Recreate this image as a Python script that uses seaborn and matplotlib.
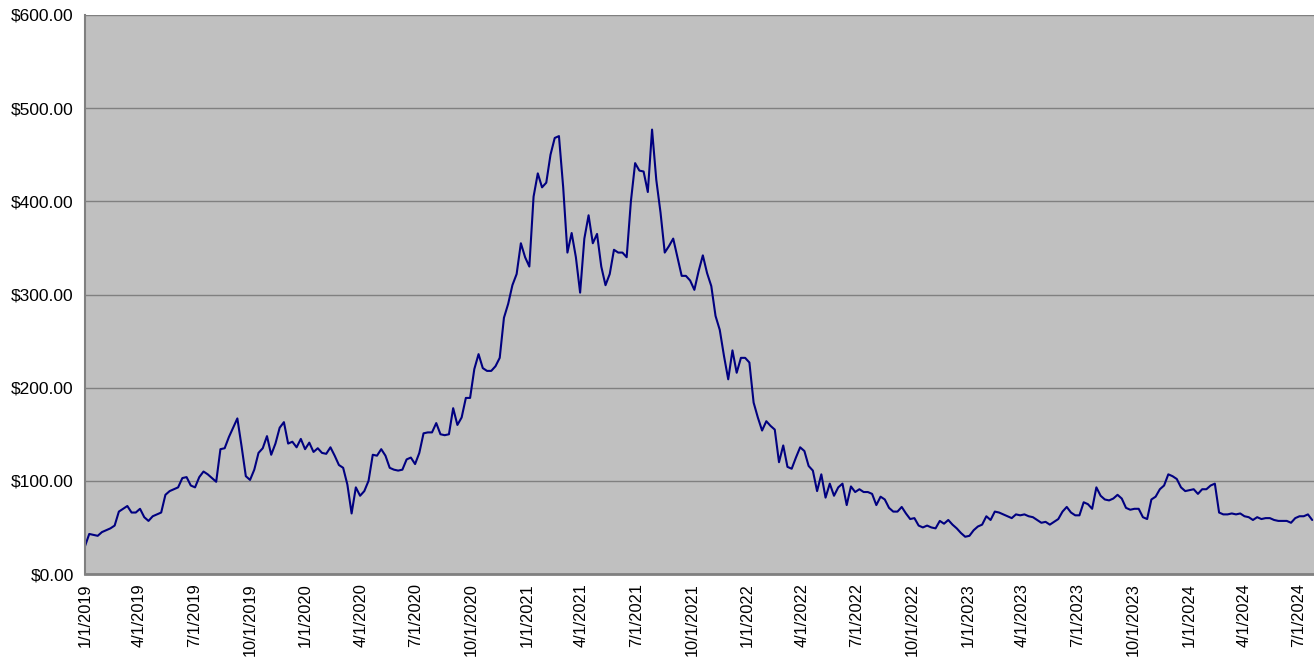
import numpy as np
import pandas as pd
import matplotlib
matplotlib.use("Agg")
import matplotlib.pyplot as plt
import matplotlib.dates as mdates
import seaborn as sns

# weekly closing price (first week = 1/1/2019)
start_date = "2019-01-01"
prices = [
    30, 43, 42, 41, 45, 47, 49, 52, 67, 70,
    73, 66, 66, 70, 61, 57, 62, 64, 66, 85,
    89, 91, 93, 103, 104, 95, 93, 104, 110, 107,
    103, 99, 134, 135, 147, 157, 167, 137, 105, 101,
    112, 130, 135, 148, 128, 140, 157, 163, 140, 142,
    136, 145, 134, 141, 131, 135, 130, 129, 136, 127,
    117, 114, 96, 65, 93, 84, 89, 100, 128, 127,
    134, 127, 114, 112, 111, 112, 123, 125, 118, 130,
    151, 152, 152, 162, 150, 149, 150, 178, 160, 168,
    189, 189, 220, 236, 221, 218, 218, 223, 232, 275,
    290, 310, 322, 355, 340, 330, 405, 430, 415, 420,
    450, 468, 470, 415, 345, 366, 340, 302, 360, 385,
    355, 365, 330, 310, 322, 348, 345, 345, 340, 400,
    441, 433, 432, 410, 477, 423, 388, 345, 352, 360,
    340, 320, 320, 315, 305, 325, 342, 323, 309, 277,
    262, 234, 209, 240, 216, 232, 232, 227, 184, 168,
    154, 164, 159, 155, 120, 138, 115, 113, 125, 136,
    132, 116, 111, 89, 107, 82, 97, 84, 93, 97,
    74, 94, 88, 91, 88, 88, 86, 74, 83, 80,
    71, 67, 67, 72, 65, 59, 60, 52, 50, 52,
    50, 49, 57, 54, 58, 53, 49, 44, 40, 41,
    47, 51, 53, 62, 58, 67, 66, 64, 62, 60,
    64, 63, 64, 62, 61, 58, 55, 56, 53, 56,
    59, 67, 72, 66, 63, 63, 77, 75, 70, 93,
    84, 80, 79, 81, 85, 81, 71, 69, 70, 70,
    61, 59, 80, 83, 91, 95, 107, 105, 102, 93,
    89, 90, 91, 86, 91, 91, 95, 97, 66, 64,
    64, 65, 64, 65, 62, 61, 58, 61, 59, 60,
    60, 58, 57, 57, 57, 55, 60, 62, 62, 64,
    58,
]
y_ticks = [0, 100, 200, 300, 400, 500, 600]
tick_dates = pd.date_range("2019-01-01", "2024-07-01", freq="QS")

df = pd.DataFrame({
    "date": pd.date_range(start_date, periods=len(prices), freq="7D"),
    "price": prices,
})

sns.set_theme(style="whitegrid")
plt.rcParams["font.family"] = ["Liberation Sans", "DejaVu Sans"]

fig = plt.figure(figsize=(13.14, 6.57), dpi=100)
ax = fig.add_axes([0.0647, 0.1263, 0.9353, 0.8509])
ax.set_facecolor("#c0c0c0")

sns.lineplot(data=df, x="date", y="price", ax=ax, color="#000080", linewidth=1.5)

ax.set_xlim(pd.Timestamp("2019-01-01"), pd.Timestamp("2024-07-26"))
ax.set_ylim(0, 600)
ax.set_yticks(y_ticks)
ax.set_yticklabels([f"${v:.2f}" for v in y_ticks], fontsize=12.5)
ax.set_xticks(mdates.date2num(tick_dates))
ax.set_xticklabels([f"{d.month}/{d.day}/{d.year}" for d in tick_dates],
                   rotation=90, fontsize=11.8)

ax.grid(axis="y", color="#808080", linewidth=1.0)
ax.grid(axis="x", visible=False)
ax.set_xlabel("")
ax.set_ylabel("")
for side in ["top", "right"]:
    ax.spines[side].set_visible(False)
ax.spines["left"].set_color("#808080")
ax.spines["bottom"].set_color("#808080")
ax.spines["left"].set_linewidth(1.5)
ax.spines["bottom"].set_linewidth(2)
ax.tick_params(axis="y", length=5, width=1, color="#808080",
               labelcolor="black", pad=3)
ax.tick_params(axis="x", length=5, width=1, color="#808080",
               labelcolor="black", pad=1.5)

fig.savefig("out.png", dpi=100, facecolor="white")
